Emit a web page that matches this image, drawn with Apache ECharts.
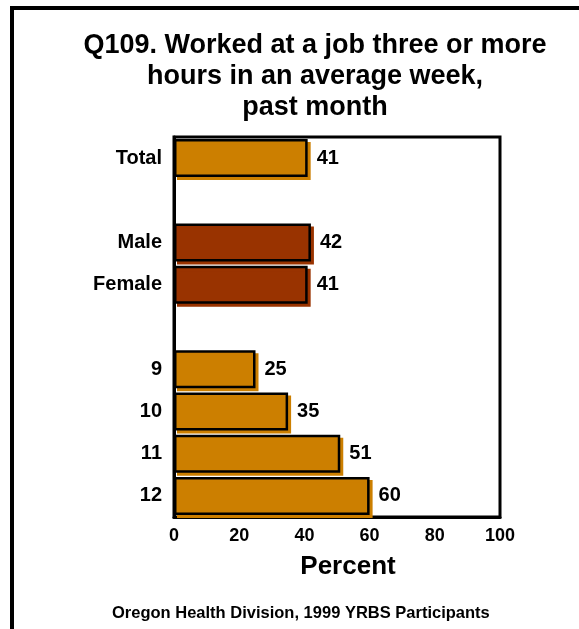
<!DOCTYPE html>
<html>
<head>
<meta charset="utf-8">
<script src="https://cdn.jsdelivr.net/npm/echarts@6/dist/echarts.min.js"></script>
<style>
  html, body { margin: 0; padding: 0; background: #fff; }
  #chart { width: 579px; height: 629px; }
</style>
</head>
<body>
<div id="chart"></div>
<script>
// Groups shown top to bottom; empty strings are spacer rows between groups
const categories = ['Total', '', 'Male', 'Female', '', '9', '10', '11', '12'];
const percentValues = [41, null, 42, 41, null, 25, 35, 51, 60];
const groupOfRow = ['overall', null, 'sex', 'sex', null, 'grade', 'grade', 'grade', 'grade'];
const xTicks = [0, 20, 40, 60, 80, 100];

const colours = { overall: '#CC7F00', sex: '#993300', grade: '#CC7F00' };
const FONT = '"Liberation Sans", Arial, sans-serif';

const barData = percentValues.map((v, i) => {
  if (v === null) return null;
  const c = colours[groupOfRow[i]];
  return {
    value: v,
    itemStyle: {
      color: c,
      borderColor: '#000',
      borderWidth: 2.5,
      shadowColor: c,
      shadowBlur: 0,
      shadowOffsetX: 3,
      shadowOffsetY: 3
    }
  };
});

const chart = echarts.init(document.getElementById('chart'), null, { renderer: 'canvas' });
chart.setOption({
  backgroundColor: '#fff',
  animation: false,
  title: {
    text: 'Q109. Worked at a job three or more\nhours in an average week,\npast month',
    left: 310,
    textAlign: 'center',
    top: 25,
    textStyle: { fontFamily: FONT, fontWeight: 'bold', fontSize: 27, lineHeight: 31, color: '#000' }
  },
  grid: {
    left: 174, right: 79, top: 137, bottom: 112,
    show: true, borderColor: '#000', borderWidth: 3, backgroundColor: 'transparent'
  },
  xAxis: {
    type: 'value',
    min: 0, max: 100, interval: 20,
    axisLine: { show: true, lineStyle: { color: '#000', width: 3 } },
    axisTick: { show: false },
    splitLine: { show: false },
    axisLabel: {
      margin: 10,
      fontFamily: FONT, fontWeight: 'bold', fontSize: 18, color: '#000',
      formatter: v => (xTicks.indexOf(v) >= 0 ? String(v) : '')
    },
    name: 'Percent',
    nameLocation: 'middle',
    nameGap: 37,
    nameTextStyle: { fontFamily: FONT, fontWeight: 'bold', fontSize: 26, color: '#000', padding: [0, 0, 0, 22] }
  },
  yAxis: {
    type: 'category',
    data: categories,
    inverse: true,
    axisLine: { show: true, lineStyle: { color: '#000', width: 3 } },
    axisTick: { show: false },
    axisLabel: {
      margin: 12,
      fontFamily: FONT, fontWeight: 'bold', fontSize: 20, color: '#000'
    }
  },
  series: [{
    type: 'bar',
    data: barData,
    barCategoryGap: '10%',
    label: {
      show: true,
      position: 'right',
      distance: 9,
      fontFamily: FONT, fontWeight: 'bold', fontSize: 20, color: '#000'
    }
  }],
  graphic: [
    {
      type: 'polyline',
      shape: { points: [[12, 629], [12, 8], [579, 8]] },
      style: { stroke: '#000', lineWidth: 4, fill: null }
    },
    {
      type: 'text',
      left: 112,
      top: 605,
      style: {
        text: 'Oregon Health Division, 1999 YRBS Participants',
        font: 'bold 16.5px "Liberation Sans", Arial, sans-serif',
        fill: '#000'
      }
    }
  ]
});
</script>
</body>
</html>
